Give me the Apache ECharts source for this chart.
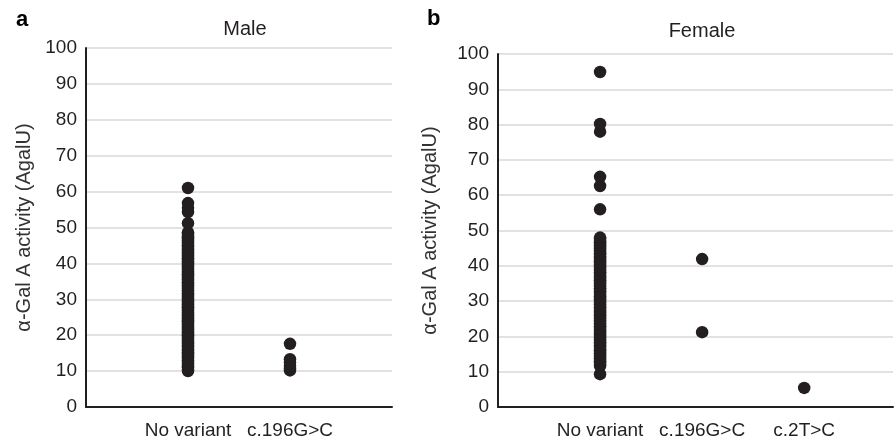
<!DOCTYPE html>
<html>
<head>
<meta charset="utf-8">
<script src="https://cdn.jsdelivr.net/npm/echarts@6/dist/echarts.min.js"></script>
<style>
  html, body { margin: 0; padding: 0; background: #fff; }
  #myChart { width: 896px; height: 442px; }
</style>
</head>
<body>
<div id="myChart"></div>
<script>
// category labels, placed at x = 1, 2, 3 on a value axis
const maleLabels = ['', 'No variant', 'c.196G>C', '']
const femaleLabels = ['', 'No variant', 'c.196G>C', 'c.2T>C']
const yTicks = [0, 10, 20, 30, 40, 50, 60, 70, 80, 90, 100]

// α-Gal A activity (AgalU)
const maleNoVariant = [10.0, 10.4, 10.9, 11.3, 11.8, 12.1, 12.6, 13.0, 13.5, 13.9, 14.2, 14.8, 15.1, 15.6,
    16.0, 16.5, 16.9, 17.3, 17.8, 18.2, 18.6, 19.1, 19.5, 20.0, 20.3, 20.8, 21.2, 21.7, 22.1, 22.5,
    23.0, 23.4, 23.9, 24.2, 24.7, 25.1, 25.6, 26.0, 26.4, 26.9, 27.3, 27.8, 28.1, 28.6, 29.0, 29.5,
    29.9, 30.3, 30.8, 31.2, 31.6, 32.1, 32.5, 33.0, 33.4, 33.9, 34.3, 34.7, 35.2, 35.6, 36.1, 36.5,
    37.0, 37.4, 37.8, 38.3, 38.7, 39.2, 39.6, 40.1, 40.5, 41.0, 41.4, 41.9, 42.3, 42.8, 43.2, 43.7,
    44.1, 44.6, 45.0, 45.5, 45.9, 46.4, 46.8, 47.3, 47.7, 48.2, 48.6, 51.2, 54.3, 55.5, 56.8, 61.0]
const maleC196 = [10.2, 10.8, 11.5, 12.4, 13.3, 17.6]

const femaleNoVariant = [9.3, 11.6, 12.0, 12.5, 12.9, 13.4, 13.8, 14.3, 14.7, 15.2, 15.6, 16.1, 16.5,
    17.0, 17.4, 17.9, 18.3, 18.8, 19.2, 19.7, 20.1, 20.6, 21.0, 21.5, 21.9, 22.4, 22.8, 23.3, 23.7,
    24.2, 24.6, 25.1, 25.5, 26.0, 26.4, 26.9, 27.3, 27.8, 28.2, 28.7, 29.1, 29.6, 30.0, 30.5, 30.9,
    31.4, 31.8, 32.3, 32.7, 33.2, 33.6, 34.1, 34.5, 35.0, 35.4, 35.9, 36.3, 36.8, 37.2, 37.7, 38.1,
    38.6, 39.0, 39.5, 39.9, 40.4, 40.8, 41.3, 41.7, 42.2, 42.6, 43.1, 43.5, 44.0, 44.4, 44.9, 45.3,
    45.8, 46.2, 46.7, 47.1, 47.6, 48.0, 56.0, 62.6, 65.2, 78.0, 80.2, 94.9]
const femaleC196 = [21.2, 41.9]
const femaleC2T = [5.4]

const dark = '#231f20'
const font = 'Liberation Sans, Arial, sans-serif'

function pts(x, vals) {
    return vals.map(v => [x, v])
}

function yAxis(gridIndex, gap) {
    return {
        type: 'value',
        gridIndex: gridIndex,
        min: yTicks[0],
        max: yTicks[yTicks.length - 1],
        interval: 10,
        name: 'α-Gal A activity (AgalU)',
        nameLocation: 'middle',
        nameGap: gap,
        nameTextStyle: { color: '#333', fontSize: 20, fontFamily: font },
        axisLine: { show: true, lineStyle: { color: dark, width: 2 } },
        axisTick: { show: false },
        axisLabel: { color: dark, fontSize: 19, fontFamily: font, margin: 9 },
        splitLine: { lineStyle: { color: '#d9d9d9', width: 1.5 } }
    }
}

function xAxis(gridIndex, max, labels) {
    return {
        type: 'value',
        gridIndex: gridIndex,
        min: 0,
        max: max,
        interval: 1,
        axisLine: { show: true, onZero: false, lineStyle: { color: dark, width: 2 } },
        axisTick: { show: false },
        splitLine: { show: false },
        axisLabel: {
            color: dark, fontSize: 19, fontFamily: font, margin: 14,
            showMinLabel: true, showMaxLabel: true,
            formatter: v => (Number.isInteger(v) && labels[v]) ? labels[v] : ''
        }
    }
}

function dots(axisIndex, x, vals) {
    return {
        type: 'scatter',
        xAxisIndex: axisIndex,
        yAxisIndex: axisIndex,
        symbolSize: 12.5,
        itemStyle: { color: dark, opacity: 1 },
        silent: true,
        data: pts(x, vals)
    }
}

const myChart = echarts.init(document.getElementById('myChart'))
const option = {
    animation: false,
    backgroundColor: '#fff',
    title: [
        { text: 'a', left: 11, top: 4, textStyle: { fontSize: 22, fontWeight: 'bold', color: '#000', fontFamily: font } },
        { text: 'b', left: 422, top: 3, textStyle: { fontSize: 22, fontWeight: 'bold', color: '#000', fontFamily: font } },
        { text: 'Male', left: 240, top: 14, textAlign: 'center', textStyle: { fontSize: 20, fontWeight: 'normal', color: dark, fontFamily: font } },
        { text: 'Female', left: 697, top: 16, textAlign: 'center', textStyle: { fontSize: 20, fontWeight: 'normal', color: dark, fontFamily: font } }
    ],
    grid: [
        { left: 86, width: 306, top: 48, bottom: 35 },
        { left: 498, right: 0, top: 54, bottom: 35 }
    ],
    xAxis: [xAxis(0, 3, maleLabels), xAxis(1, 3.87, femaleLabels)],
    yAxis: [yAxis(0, 52), yAxis(1, 58)],
    series: [
        dots(0, 1, maleNoVariant),
        dots(0, 2, maleC196),
        dots(1, 1, femaleNoVariant),
        dots(1, 2, femaleC196),
        dots(1, 3, femaleC2T)
    ]
}
myChart.setOption(option)
</script>
</body>
</html>
